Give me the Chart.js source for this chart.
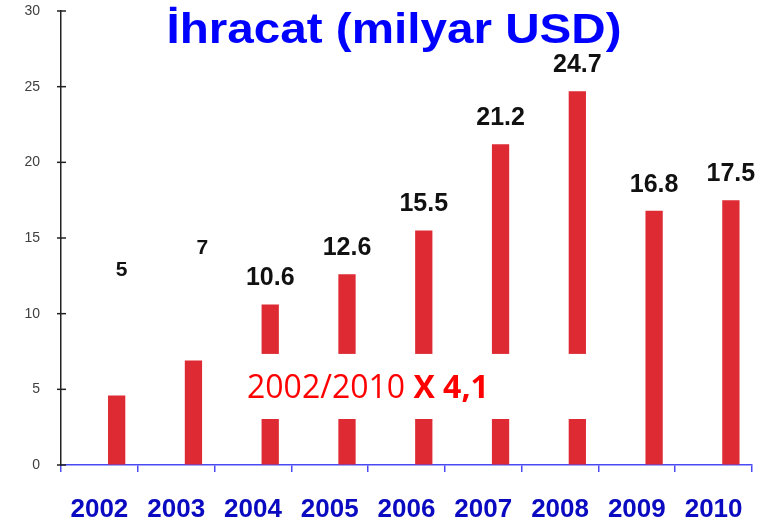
<!DOCTYPE html>
<html>
<head>
<meta charset="utf-8">
<script src="https://cdn.jsdelivr.net/npm/chart.js@4.4.0/dist/chart.umd.min.js"></script>
<style>
  body { margin: 0; background: #fff; }
</style>
</head>
<body>
<canvas id="myChart" width="777" height="521"></canvas>
<script>
const years = ["2002", "2003", "2004", "2005", "2006", "2007", "2008", "2009", "2010"];
const exports = [4.6, 6.9, 10.6, 12.6, 15.5, 21.2, 24.7, 16.8, 17.5];
const exportLabels = ["5", "7", "10.6", "12.6", "15.5", "21.2", "24.7", "16.8", "17.5"];
// empty first series, the bars sit in the second slot of each category
const emptySeries = [null, null, null, null, null, null, null, null, null];
const yTicks = [0, 5, 10, 15, 20, 25, 30];

const FONT = "'Liberation Sans', Arial, sans-serif";

const overlay = {
  id: "overlay",
  afterDraw(chart) {
    const ctx = chart.ctx;
    const y = chart.scales.y;
    const left = chart.chartArea.left;

    ctx.save();
    // y tick marks crossing the axis
    ctx.strokeStyle = "#222";
    ctx.lineWidth = 1.5;
    yTicks.forEach((t) => {
      const py = y.getPixelForValue(t);
      ctx.beginPath();
      ctx.moveTo(left - 4, py);
      ctx.lineTo(left + 5, py);
      ctx.stroke();
    });

    // value labels
    const meta = chart.getDatasetMeta(1);
    ctx.fillStyle = "#111";
    ctx.textAlign = "center";
    ctx.textBaseline = "middle";
    meta.data.forEach((bar, i) => {
      if (i < 2) {
        // the first two labels float away from their bars
        const spot = i === 0 ? { dx: 5, v: 12.9 } : { dx: 9, v: 14.3 };
        ctx.font = "bold 21px " + FONT;
        ctx.fillText(exportLabels[i], bar.x + spot.dx, y.getPixelForValue(spot.v));
      } else {
        ctx.font = "bold 25px " + FONT;
        ctx.fillText(exportLabels[i], bar.x, bar.y - 26);
      }
    });

    // title
    ctx.font = "bold 42px " + FONT;
    ctx.fillStyle = "#0000ff";
    const title = "İhracat (milyar USD)";
    const w = ctx.measureText(title).width;
    ctx.save();
    ctx.translate(394, 43);
    ctx.scale(455 / w, 1);
    ctx.textBaseline = "alphabetic";
    ctx.fillText(title, 0, 0);
    ctx.restore();

    // red note on a white box
    ctx.fillStyle = "#fff";
    ctx.fillRect(212, y.getPixelForValue(7.34), 400, y.getPixelForValue(3.04) - y.getPixelForValue(7.34));
    ctx.textAlign = "left";
    ctx.textBaseline = "alphabetic";
    ctx.fillStyle = "#ff0000";
    ctx.font = "32px 'Open Sans', sans-serif";
    const part1 = "2002/2010 ";
    ctx.fillText(part1, 247, 398);
    const w1 = ctx.measureText(part1).width;
    ctx.font = "bold 32px 'Open Sans', sans-serif";
    ctx.fillText("X 4,1", 247 + w1, 398);
    ctx.restore();
  },
};

const ctx = document.getElementById("myChart");

new Chart(ctx, {
  type: "bar",
  data: {
    labels: years,
    datasets: [
      {
        label: "",
        data: emptySeries,
        backgroundColor: "#de2a33",
      },
      {
        label: "İhracat",
        data: exports,
        backgroundColor: "#de2a33",
      },
    ],
  },
  options: {
    responsive: false,
    animation: false,
    layout: {
      padding: { top: 11, right: 25, bottom: 0, left: 0 },
    },
    datasets: {
      bar: { categoryPercentage: 0.9, barPercentage: 0.5 },
    },
    plugins: {
      legend: { display: false },
      tooltip: { enabled: false },
      title: { display: false },
    },
    scales: {
      x: {
        grid: {
          drawOnChartArea: false,
          color: "#4a4af5",
          lineWidth: 1.5,
          tickLength: 7,
        },
        border: { color: "#4a4af5", width: 1.5 },
        ticks: {
          color: "#0a0ac0",
          font: { family: FONT, size: 26, weight: "bold" },
          padding: 22,
          maxRotation: 0,
        },
        afterFit: (s) => {
          s.height = 56;
        },
      },
      y: {
        min: 0,
        max: 30,
        afterBuildTicks: (s) => {
          s.ticks = yTicks.map((v) => ({ value: v }));
        },
        grid: {
          drawOnChartArea: false,
          color: "rgba(0,0,0,0)",
          tickLength: 4,
        },
        border: { color: "#222", width: 1.5 },
        ticks: {
          color: "#404040",
          font: { family: FONT, size: 14 },
          padding: 17,
        },
        afterFit: (s) => {
          s.width = 61;
          s.paddingTop = 0;
          s.paddingBottom = 0;
        },
      },
    },
  },
  plugins: [overlay],
});
</script>
</body>
</html>
